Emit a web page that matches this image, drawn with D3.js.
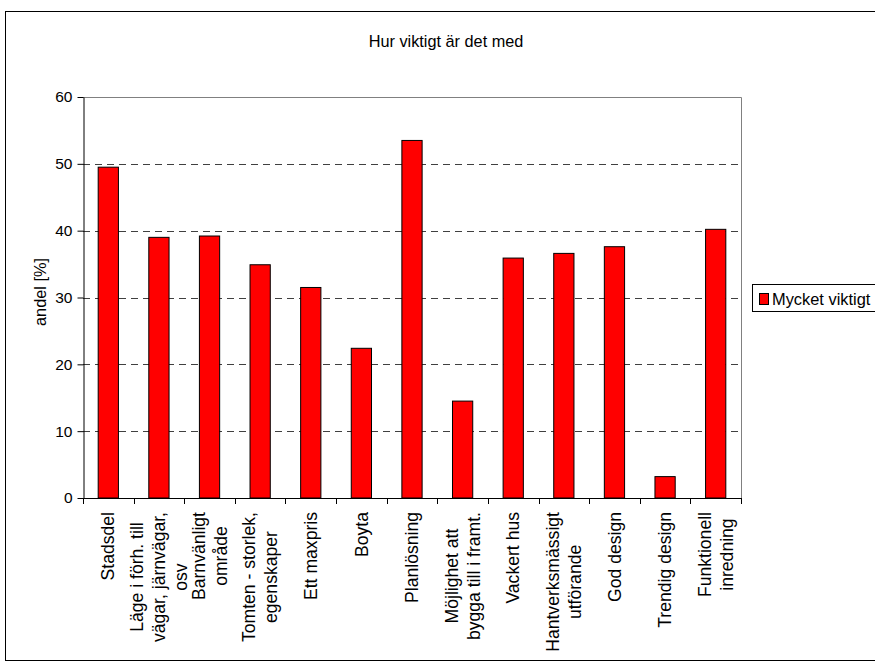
<!DOCTYPE html>
<html>
<head>
<meta charset="utf-8">
<script src="https://cdn.jsdelivr.net/npm/d3@7"></script>
<style>
  html, body { margin: 0; padding: 0; background: #fff; overflow: hidden; }
  svg { display: block; font-family: "Liberation Sans", Arial, sans-serif; }
</style>
</head>
<body>
<svg id="chart" width="875" height="666"></svg>
<script>
const categories = [
  ["Stadsdel"],
  ["Läge i förh. till", "vägar, järnvägar,", "osv"],
  ["Barnvänligt", "område"],
  ["Tomten - storlek,", "egenskaper"],
  ["Ett maxpris"],
  ["Boyta"],
  ["Planlösning"],
  ["Möjlighet att", "bygga till i framt."],
  ["Vackert hus"],
  ["Hantverksmässigt", "utförande"],
  ["God design"],
  ["Trendig design"],
  ["Funktionell", "inredning"]
];
const values = [49.5, 39.0, 39.2, 34.9, 31.5, 22.4, 53.5, 14.5, 35.9, 36.6, 37.6, 3.2, 40.2];
const yTicks = [0, 10, 20, 30, 40, 50, 60];
const seriesName = "Mycket viktigt";
const chartTitle = "Hur viktigt är det med";
const yTitle = "andel [%]";

const svg = d3.select("#chart");
const pLeft = 83, pRight = 741, pTop = 97, pBottom = 498;

// outer chart border
svg.append("rect").attr("x", 5.5).attr("y", 11.5).attr("width", 900).attr("height", 649)
  .attr("fill", "#fff").attr("stroke", "#000").attr("stroke-width", 1);

const keys = categories.map((c, i) => i);
const x = d3.scaleBand().domain(keys).range([pLeft, pRight]).paddingInner(0.6).paddingOuter(0.3);
const y = d3.scaleLinear().domain([0, 60]).range([pBottom, pTop]);
const step = x.step();

// gridlines
svg.append("g").selectAll("line").data(yTicks.filter(t => t > 0 && t < 60)).join("line")
  .attr("x1", pLeft).attr("x2", pRight)
  .attr("y1", d => Math.round(y(d)) + 0.5).attr("y2", d => Math.round(y(d)) + 0.5)
  .attr("stroke", "#404040").attr("stroke-dasharray", "7,5");

// plot frame top & right
svg.append("path")
  .attr("d", `M${pLeft},${pTop + 0.5}H${pRight + 0.5}V${pBottom}`)
  .attr("fill", "none").attr("stroke", "#808080");

// bars
svg.append("g").selectAll("rect").data(values).join("rect")
  .attr("x", (d, i) => x(i))
  .attr("y", d => y(d))
  .attr("width", x.bandwidth())
  .attr("height", d => y(0) - y(d))
  .attr("fill", "#ff0000").attr("stroke", "#000").attr("stroke-width", 1);

// y axis
const yAxis = d3.axisLeft(y).tickValues(yTicks).tickSize(6).tickPadding(5).tickSizeOuter(0);
const gy = svg.append("g").attr("transform", `translate(${pLeft + 0.5},0)`).call(yAxis);
gy.selectAll("text").attr("font-size", "15.5px").attr("fill", "#000").attr("font-family", "Liberation Sans, Arial, sans-serif");
gy.selectAll("line,path").attr("stroke", "#000");

// x axis line and ticks at band boundaries
const boundaries = d3.range(categories.length + 1).map(i => pLeft + i * step);
svg.append("line").attr("x1", pLeft).attr("x2", pRight + 1).attr("y1", pBottom + 0.5).attr("y2", pBottom + 0.5).attr("stroke", "#000");
svg.append("g").selectAll("line").data(boundaries).join("line")
  .attr("x1", d => Math.round(d) + 0.5).attr("x2", d => Math.round(d) + 0.5)
  .attr("y1", pBottom).attr("y2", pBottom + 6).attr("stroke", "#000");

// category labels (rotated, multi-line, centered lines, block starting below axis)
const fs = 17.6, lh = 22, labTop = 512;
categories.forEach((lines, i) => {
  const cx = x(i) + x.bandwidth() / 2;
  const g = svg.append("g").attr("transform", `translate(${cx},${labTop}) rotate(-90)`);
  const texts = lines.map((ln, j) => g.append("text")
    .attr("font-size", fs + "px").attr("fill", "#000")
    .attr("text-anchor", "middle")
    .attr("y", (j - (lines.length - 1) / 2) * lh + 0.35 * fs)
    .text(ln));
  const maxW = d3.max(texts, t => t.node().getComputedTextLength());
  texts.forEach(t => t.attr("x", -maxW / 2));
});

// y axis title
svg.append("text").attr("transform", `translate(46,292) rotate(-90)`)
  .attr("text-anchor", "middle").attr("font-size", "16.3px").attr("fill", "#000")
  .text(yTitle);

// chart title
svg.append("text").attr("x", 446).attr("y", 47).attr("text-anchor", "middle")
  .attr("font-size", "16.3px").attr("fill", "#000").text(chartTitle);

// legend
const lg = svg.append("g");
lg.append("rect").attr("x", 752.5).attr("y", 284.5).attr("width", 140).attr("height", 27)
  .attr("fill", "#fff").attr("stroke", "#000");
lg.append("rect").attr("x", 759.5).attr("y", 293.5).attr("width", 9).attr("height", 11)
  .attr("fill", "#ff0000").attr("stroke", "#000");
lg.append("text").attr("x", 772).attr("y", 305).attr("font-size", "16.4px").attr("fill", "#000").text(seriesName);
</script>
</body>
</html>
